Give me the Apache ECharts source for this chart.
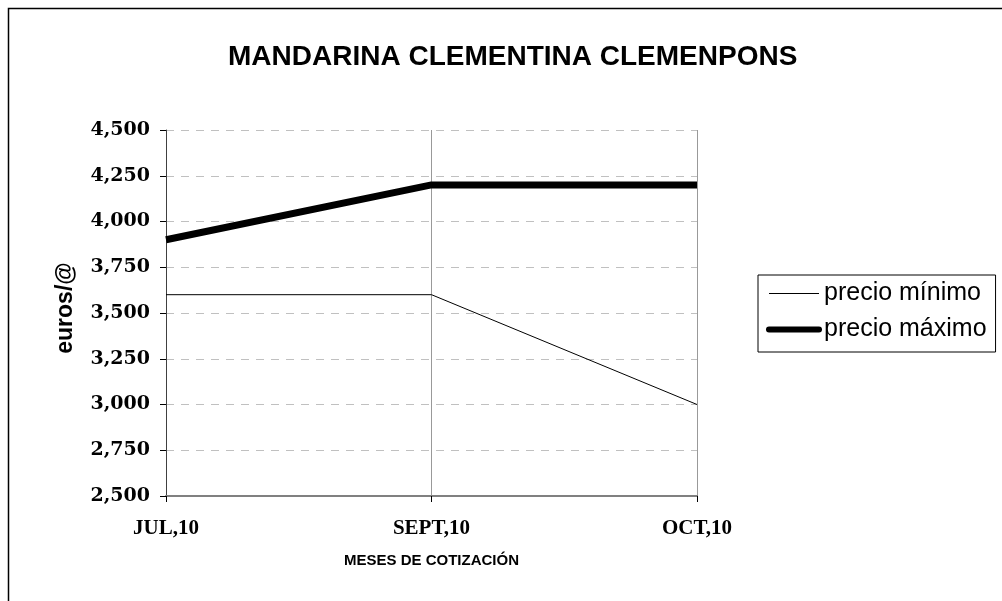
<!DOCTYPE html>
<html>
<head>
<meta charset="utf-8">
<script src="https://cdn.jsdelivr.net/npm/echarts@6/dist/echarts.min.js"></script>
<style>
  html, body { margin: 0; padding: 0; background: #fff; }
  #chart { width: 1002px; height: 601px; }
</style>
</head>
<body>
<div id="chart"></div>
<script>
// datos (euros/@)
const meses = ['JUL,10', 'SEPT,10', 'OCT,10'];
const precioMinimo = [3.6, 3.6, 3.0];
const precioMaximo = [3.9, 4.2, 4.2];

const chart = echarts.init(document.getElementById('chart'));

chart.setOption({
  animation: false,
  backgroundColor: '#fff',
  title: {
    text: 'MANDARINA CLEMENTINA CLEMENPONS',
    left: 228,
    top: 43,
    padding: 0,
    textStyle: { fontFamily: 'Liberation Sans, Arial', fontWeight: 'bold', fontSize: 28, color: '#000' }
  },
  // marco exterior
  graphic: [{
    type: 'rect',
    shape: { x: 8.5, y: 8.5, width: 1100, height: 700 },
    style: { fill: 'none', stroke: '#000', lineWidth: 1.5 },
    silent: true
  }],
  legend: {
    orient: 'vertical',
    left: 758,
    top: 275,
    padding: [6, 9, 10, 8],
    itemGap: 11,
    itemWidth: 50,
    itemHeight: 14,
    borderColor: '#000',
    borderWidth: 1,
    itemStyle: { opacity: 0 },
    lineStyle: { width: 'inherit' },
    textStyle: { fontFamily: 'Liberation Sans, Arial', fontSize: 25, color: '#000' },
    data: [
      { name: 'precio mínimo', lineStyle: { width: 1 } },
      { name: 'precio máximo', lineStyle: { width: 6, cap: 'round' } }
    ]
  },
  grid: { left: 166, right: 305, top: 130, bottom: 105 },
  xAxis: {
    type: 'category',
    data: meses,
    boundaryGap: false,
    name: 'MESES DE COTIZACIÓN',
    nameLocation: 'middle',
    nameGap: 57,
    nameTextStyle: { fontFamily: 'Liberation Sans, Arial', fontWeight: 'bold', fontSize: 15, color: '#000' },
    axisLine: { lineStyle: { color: '#808080', width: 2 } },
    axisTick: { show: true, length: 6, lineStyle: { color: '#000' } },
    axisLabel: { margin: 22, fontFamily: 'Liberation Serif, Times New Roman', fontWeight: 'bold', fontSize: 21, color: '#000' },
    splitLine: { show: true, lineStyle: { color: '#999', width: 1 } }
  },
  yAxis: {
    type: 'value',
    min: 2.5,
    max: 4.5,
    interval: 0.25,
    name: 'euros/@',
    nameLocation: 'middle',
    nameGap: 89,
    nameTextStyle: { fontFamily: 'Liberation Sans, Arial', fontWeight: 'bold', fontSize: 23, color: '#000', padding: [0, 0, 0, 10] },
    axisLine: { show: true, lineStyle: { color: '#404040', width: 1 } },
    axisTick: { show: true, length: 6, lineStyle: { color: '#000' } },
    axisLabel: {
      margin: 16,
      fontFamily: 'DejaVu Serif',
      fontWeight: 'bold',
      fontSize: 19,
      color: '#000',
      formatter: v => v.toFixed(3).replace('.', ',')
    },
    splitLine: { show: true, lineStyle: { color: '#c0c0c0', width: 1, type: [8, 7] } }
  },
  series: [
    {
      name: 'precio mínimo',
      type: 'line',
      data: precioMinimo,
      symbol: 'none',
      lineStyle: { color: '#000', width: 1 },
      itemStyle: { color: '#000' }
    },
    {
      name: 'precio máximo',
      type: 'line',
      data: precioMaximo,
      symbol: 'none',
      lineStyle: { color: '#000', width: 7 },
      itemStyle: { color: '#000' }
    }
  ]
});
</script>
</body>
</html>
